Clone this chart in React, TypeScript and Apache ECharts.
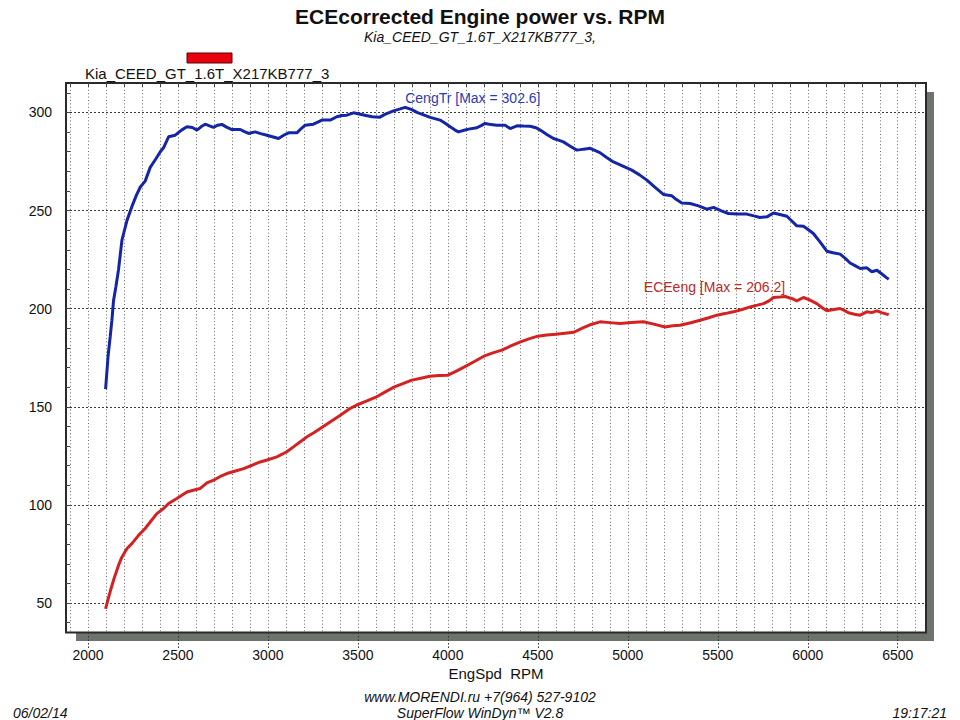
import React, { useEffect, useRef } from 'react';
import * as echarts from 'echarts';

const TITLE = 'ECEcorrected Engine power vs. RPM';
const SUBTITLE = 'Kia_CEED_GT_1.6T_X217KB777_3,';
const LEGEND_LABEL = 'Kia_CEED_GT_1.6T_X217KB777_3';
const X_NAME = 'EngSpd  RPM';
const FOOTER_1 = 'www.MORENDI.ru +7(964) 527-9102';
const FOOTER_2 = 'SuperFlow WinDyn\u2122 V2.8';
const DATE_TEXT = '06/02/14';
const TIME_TEXT = '19:17:21';
const TORQUE_NAME = 'CengTr';
const POWER_NAME = 'ECEeng';

const X_MIN = 1878;
const X_MAX = 6657;
const Y_MIN = 35;
const Y_MAX = 315;
const X_LABELS = [2000, 2500, 3000, 3500, 4000, 4500, 5000, 5500, 6000, 6500];
const X_MINOR = [1900, 2000, 2100, 2200, 2300, 2400, 2500, 2600, 2700, 2800, 2900, 3000, 3100, 3200, 3300, 3400, 3500, 3600, 3700, 3800, 3900, 4000, 4100, 4200, 4300, 4400, 4500, 4600, 4700, 4800, 4900, 5000, 5100, 5200, 5300, 5400, 5500, 5600, 5700, 5800, 5900, 6000, 6100, 6200, 6300, 6400, 6500, 6600];
const Y_LABELS = [50, 100, 150, 200, 250, 300];
const Y_MINOR = [40, 50, 60, 70, 80, 90, 100, 110, 120, 130, 140, 150, 160, 170, 180, 190, 200, 210, 220, 230, 240, 250, 260, 270, 280, 290, 300, 310];

// CengTr (blue)
const TORQUE_RPM = [2098, 2112, 2124, 2133, 2142, 2155, 2170, 2189, 2217, 2244, 2270, 2291, 2318, 2346, 2375, 2402, 2420, 2448, 2485, 2520, 2550, 2580, 2606, 2630, 2652, 2675, 2698, 2720, 2744, 2770, 2800, 2846, 2870, 2892, 2929, 2960, 2994, 3030, 3059, 3090, 3115, 3161, 3185, 3207, 3253, 3280, 3300, 3346, 3383, 3410, 3439, 3476, 3513, 3545, 3580, 3620, 3650, 3698, 3735, 3763, 3800, 3828, 3865, 3902, 3957, 3985, 4013, 4040, 4059, 4090, 4115, 4161, 4185, 4207, 4240, 4272, 4318, 4346, 4384, 4420, 4457, 4490, 4513, 4550, 4587, 4615, 4642, 4680, 4717, 4755, 4791, 4820, 4847, 4880, 4920, 4970, 5022, 5065, 5106, 5150, 5198, 5245, 5270, 5300, 5346, 5393, 5439, 5476, 5520, 5559, 5606, 5661, 5700, 5735, 5773, 5809, 5845, 5884, 5910, 5939, 5976, 6000, 6031, 6070, 6106, 6140, 6180, 6210, 6235, 6265, 6291, 6328, 6356, 6384, 6410, 6439, 6450];
const TORQUE = [159, 176, 186, 194, 204, 211, 220, 235, 245, 252, 258, 262, 265, 272, 276, 280, 282, 287.6, 288.4, 291, 292.7, 292.3, 291, 292.8, 294, 293.2, 292.4, 293.5, 293.9, 292.5, 291.3, 291.3, 290.2, 289.3, 290.1, 289.2, 288.4, 287.5, 286.7, 288.5, 289.6, 289.6, 291.8, 293.5, 294, 295.2, 296.1, 296.1, 297.8, 298.4, 298.6, 299.8, 299.1, 298.4, 297.8, 297.5, 299, 300.8, 301.8, 302.6, 301.4, 300, 298.8, 297.5, 296.1, 294.5, 292.7, 291, 290.1, 290.9, 291.5, 292.2, 293.3, 294.4, 293.8, 293.5, 293.5, 291.8, 293.2, 293.1, 293, 292.2, 291, 288.8, 286.7, 285.9, 285, 282.8, 280.8, 281.3, 281.7, 280.5, 279.4, 277.2, 274.8, 272.8, 270.6, 268.2, 265.5, 262, 258.2, 257.5, 255.6, 253.9, 253.6, 252.4, 250.7, 251.6, 249.8, 248.5, 248.2, 248.2, 247.3, 246.5, 246.8, 248.8, 248, 247.1, 244.8, 242.2, 242, 240.5, 238.3, 233.8, 229.3, 228.5, 227.8, 225.5, 223.3, 221.8, 220.5, 220.8, 218.8, 219.6, 217.8, 215.7, 215];

// ECEeng (red)
const POWER_RPM = [2098, 2112, 2124, 2142, 2170, 2189, 2217, 2244, 2281, 2318, 2346, 2383, 2420, 2448, 2494, 2550, 2590, 2624, 2661, 2698, 2735, 2772, 2820, 2865, 2910, 2957, 3000, 3050, 3105, 3142, 3180, 3217, 3255, 3291, 3350, 3402, 3450, 3491, 3550, 3600, 3650, 3700, 3750, 3800, 3850, 3900, 3950, 4000, 4050, 4100, 4150, 4200, 4250, 4300, 4350, 4400, 4450, 4500, 4550, 4600, 4650, 4700, 4750, 4800, 4846, 4900, 4957, 5020, 5087, 5150, 5207, 5250, 5290, 5350, 5402, 5450, 5495, 5540, 5587, 5635, 5680, 5720, 5754, 5785, 5809, 5845, 5874, 5910, 5939, 5976, 6010, 6050, 6080, 6106, 6145, 6180, 6205, 6226, 6260, 6291, 6328, 6355, 6384, 6410, 6439, 6450];
const POWER = [47, 52, 56, 61.6, 69.3, 73.5, 77.8, 80.3, 84.5, 88, 91.3, 95.6, 98.2, 100.7, 103.3, 106.6, 107.6, 108.4, 111.2, 112.6, 114.5, 116, 117.3, 118.5, 120.2, 121.9, 123, 124.5, 127.1, 129.6, 132.2, 134.7, 136.8, 138.9, 142.5, 145.7, 148.8, 150.8, 153, 154.9, 157.5, 160, 161.8, 163.6, 164.6, 165.6, 166, 166.1, 168.3, 170.7, 173.2, 175.8, 177.5, 178.9, 181, 183, 184.6, 186, 186.6, 187, 187.5, 188, 190.2, 192.1, 193.3, 192.9, 192.5, 193, 193.3, 192, 190.7, 191.3, 191.6, 192.8, 194.1, 195.4, 196.7, 197.5, 198.4, 199.6, 200.9, 201.8, 202.6, 204, 205.7, 205.9, 206.2, 205.2, 204, 205.7, 204.5, 202.6, 200.5, 198.9, 199.6, 200.1, 199, 197.9, 197.2, 196.7, 198.4, 198, 198.9, 198, 197.2, 197];

const FONT = '"Liberation Sans", Arial, Helvetica, sans-serif';
const BLUE = '#1426a6';
const RED = '#d42222';

function pairs(xs: number[], ys: number[]) {
  return xs.map((x, i) => [x, ys[i]]);
}

function maxPoint(xs: number[], ys: number[]) {
  let idx = 0;
  ys.forEach((v, i) => { if (v > ys[idx]) idx = i; });
  return [xs[idx], ys[idx]];
}

export default function App() {
  const ref = useRef<HTMLDivElement>(null);

  useEffect(() => {
    document.body.style.margin = '0';
    if (!ref.current) return;
    const chart = echarts.init(ref.current, null, { renderer: 'svg' });
    const tMax = maxPoint(TORQUE_RPM, TORQUE);
    const pMax = maxPoint(POWER_RPM, POWER);
    const italic = { fontFamily: FONT, fontSize: 14, fontStyle: 'italic', fontWeight: 'normal', color: '#111' };

    chart.setOption({
      animation: false,
      backgroundColor: '#ffffff',
      textStyle: { fontFamily: FONT },
      title: [
        { text: TITLE, left: 'center', top: 1, textStyle: { fontFamily: FONT, fontSize: 21, fontWeight: 'bold', color: '#111' } },
        { text: SUBTITLE, left: 'center', top: 25, textStyle: italic },
        { text: FOOTER_1, left: 'center', top: 685, textStyle: italic },
        { text: FOOTER_2, left: 'center', top: 701, textStyle: italic },
        { text: DATE_TEXT, left: 8, top: 701, textStyle: italic },
        { text: TIME_TEXT, right: 8, top: 701, textStyle: italic },
      ],
      graphic: [
        { type: 'rect', z: -1, shape: { x: 76, y: 92, width: 858, height: 549 }, style: { fill: '#6e736e' }, silent: true },
        { type: 'rect', shape: { x: 187, y: 53, width: 45, height: 10 }, style: { fill: '#e60010', stroke: '#5a0000', lineWidth: 1 } },
        { type: 'text', x: 85, y: 73, style: { text: LEGEND_LABEL, fontFamily: FONT, fontSize: 15, fill: '#111', verticalAlign: 'middle', textAlign: 'left' } },
      ],
      grid: {
        left: 66, top: 83, right: 34, bottom: 87.5,
        show: true, backgroundColor: '#ffffff', borderColor: '#2a2a2a', borderWidth: 2,
      },
      xAxis: [
        {
          type: 'value', min: X_MIN, max: X_MAX, position: 'bottom',
          name: X_NAME, nameLocation: 'middle', nameGap: 32,
          nameTextStyle: { fontFamily: FONT, fontSize: 15, color: '#111' },
          axisLine: { show: false },
          axisTick: { show: true, customValues: X_LABELS, inside: false, length: 16, lineStyle: { color: '#333', width: 1, type: [1.5, 2] } },
          axisLabel: { show: true, customValues: X_LABELS, margin: 15, fontFamily: FONT, fontSize: 14, color: '#111', formatter: (v: number) => String(v) },
          splitLine: { show: false },
        },
        {
          type: 'value', min: X_MIN, max: X_MAX, position: 'top',
          axisLine: { show: false },
          axisTick: { show: true, customValues: X_MINOR, inside: true, length: 4, lineStyle: { color: '#444', width: 1 } },
          axisLabel: { show: false },
          splitLine: { show: true, lineStyle: { color: '#6a6a6a', width: 1, type: [1, 2.4] } },
        },
      ],
      yAxis: [
        {
          type: 'value', min: Y_MIN, max: Y_MAX, position: 'left',
          axisLine: { show: false },
          axisTick: { show: true, customValues: Y_MINOR, inside: true, length: 4, lineStyle: { color: '#444', width: 1 } },
          axisLabel: { show: true, customValues: Y_LABELS, margin: 14, fontFamily: FONT, fontSize: 14, color: '#111', formatter: (v: number) => String(v) },
          splitLine: { show: false },
        },
        {
          type: 'value', min: Y_MIN, max: Y_MAX, position: 'left',
          axisLine: { show: false },
          axisTick: { show: false, customValues: Y_LABELS },
          axisLabel: { show: false },
          splitLine: { show: true, lineStyle: { color: '#3a3a3a', width: 1, type: [2, 2] } },
        },
      ],
      series: [
        {
          name: TORQUE_NAME, type: 'line', xAxisIndex: 0, yAxisIndex: 0, z: 5,
          data: pairs(TORQUE_RPM, TORQUE), showSymbol: false, symbol: 'none',
          lineStyle: { color: BLUE, width: 3 }, itemStyle: { color: BLUE },
          markPoint: {
            symbol: 'circle', symbolSize: 1, itemStyle: { color: 'rgba(0,0,0,0)' },
            data: [{ coord: tMax, value: tMax[1] }],
            label: {
              show: true, position: 'top', distance: 2, align: 'left',
              formatter: () => `${TORQUE_NAME} [Max = ${tMax[1].toFixed(1)}]`,
              fontFamily: FONT, fontSize: 14, color: '#2a3cb4',
            },
          },
        },
        {
          name: POWER_NAME, type: 'line', xAxisIndex: 0, yAxisIndex: 0, z: 5,
          data: pairs(POWER_RPM, POWER), showSymbol: false, symbol: 'none',
          lineStyle: { color: RED, width: 3 }, itemStyle: { color: RED },
          markPoint: {
            symbol: 'circle', symbolSize: 1, itemStyle: { color: 'rgba(0,0,0,0)' },
            data: [{ coord: pMax, value: pMax[1] }],
            label: {
              show: true, position: 'top', distance: 2, align: 'right',
              formatter: () => `${POWER_NAME} [Max = ${pMax[1].toFixed(1)}]`,
              fontFamily: FONT, fontSize: 14, color: '#b82a2a',
            },
          },
        },
      ],
    });
    return () => chart.dispose();
  }, []);

  return <div ref={ref} style={{ width: 960, height: 720 }} />;
}
